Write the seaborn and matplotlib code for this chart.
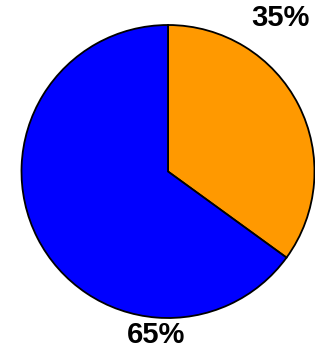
import matplotlib
matplotlib.use("Agg")
import matplotlib.pyplot as plt
import seaborn as sns

categories = ["A", "B"]
values = [35, 65]
labels = ["35%", "65%"]
colors = ["#FF9900", "#0000FF"]

sns.set_style("white")
plt.rcParams['font.family'] = ['Liberation Sans', 'DejaVu Sans']

W, H = 315, 353
fig = plt.figure(figsize=(W / 100, H / 100), dpi=100)
ax = fig.add_axes([0, 0, 1, 1])
ax.set_xlim(0, W)
ax.set_ylim(0, H)
ax.set_aspect('equal')
ax.axis('off')

cx, cy, r = 168, H - 171.5, 146.5
ax.pie(values, colors=colors, startangle=90, counterclock=False,
       center=(cx, cy), radius=r, frame=True,
       wedgeprops=dict(edgecolor='black', linewidth=1.3))
ax.set_xlim(0, W)
ax.set_ylim(0, H)
ax.axis('off')

label_pos = [(280, H - 18), (156, H - 335)]
for lab, (x, y) in zip(labels, label_pos):
    ax.text(x, y, lab, ha='center', va='center', fontsize=21,
            fontweight='bold', color='black')

fig.savefig("out.png", dpi=100)
